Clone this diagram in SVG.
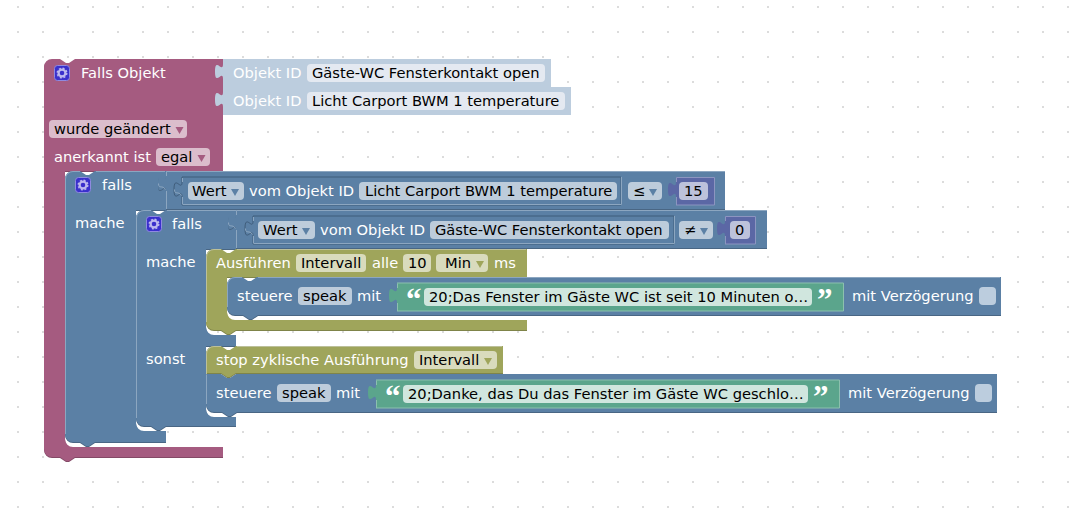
<svg xmlns="http://www.w3.org/2000/svg" width="1077" height="528" viewBox="0 0 1077 528">
<style>
text{font-family:"DejaVu Sans",sans-serif;font-size:14.67px;white-space:pre}
.w{fill:#fff}.k{fill:#000}
.pink{fill:#a55b80}.pinkd{fill:#844966}
.blue{fill:#5b80a5}.blued{fill:#496684}
.olive{fill:#9fa55b}.olived{fill:#7f8449}
.lb{fill:none;stroke:#8ca6c0}.lo{fill:none;stroke:#bcc09a}
.fb{fill:#bdccdb}.fp{fill:#dbbdcc}.fo{fill:#d9dbbd}.fs{fill:#e4e9f1}.fg{fill:#d0e6de}.fn{fill:#bdc2db}
.q{font-family:"Liberation Serif",serif;font-weight:bold;font-size:31px;fill:#fff}
</style>
<defs>
<pattern id="dots" x="0" y="0" width="25" height="25" patternUnits="userSpaceOnUse">
<path d="M18,6.500v2M17,7.500h2" stroke="#d0d0d0" stroke-width="1" fill="none" transform="translate(0,-0.500)"/>
</pattern>
<g id="gear">
<rect x="0.500" y="0.500" width="15" height="15" rx="3" fill="#3a30cc" stroke="#8f8ae0"/>
<circle cx="8" cy="8" r="3.400" fill="none" stroke="#bcb8ee" stroke-width="2.200"/>
<circle cx="8" cy="8" r="4.800" fill="none" stroke="#bcb8ee" stroke-width="1.400" stroke-dasharray="2 1.770"/>
</g>
</defs>
<rect width="1077" height="528" fill="#fff"/>
<rect width="1077" height="528" fill="url(#dots)"/>

<g id="falls-objekt">
<path class="pinkd" transform="translate(0,1)" d="M44,67a8,8 0 0 1 8-8h8l6,4h3l6-4H223V171H65V439a8,8 0 0 0 8,8H223V457H75l-6,4h-3l-6-4H52a8,8 0 0 1-8-8Z"/>
<path class="pink" d="M44,67a8,8 0 0 1 8-8h8l6,4h3l6-4H223V171H65V439a8,8 0 0 0 8,8H223V457H75l-6,4h-3l-6-4H52a8,8 0 0 1-8-8Z"/>
<use href="#gear" x="54" y="65"/>
<text class="w" x="81" y="78">Falls Objekt</text>
<rect class="fp" x="49" y="120" width="138" height="18" rx="4"/>
<text class="k" x="54" y="134">wurde geändert</text>
<path class="pink" d="M175.500,127h8l-4,7Z"/>
<text class="w" x="54" y="162">anerkannt ist</text>
<rect class="fp" x="156" y="148" width="54" height="18" rx="4"/>
<text class="k" x="161" y="162">egal</text>
<path class="pink" d="M197.500,155h8l-4,7Z"/>
</g>

<g id="objekt-id-1">
<path d="M223,59H551V87H223V79c0-10-8,8-8-7.500s8,2.500 8-7.500Z" fill="#bccdde"/>
<text class="w" x="233" y="78">Objekt ID</text>
<rect class="fs" x="307" y="64" width="238" height="18" rx="4"/>
<text class="k" x="312" y="78">Gäste-WC Fensterkontakt open</text>
</g>
<g id="objekt-id-2">
<path d="M223,87H571V115H223V107c0-10-8,8-8-7.500s8,2.500 8-7.500Z" fill="#bccdde"/>
<text class="w" x="233" y="106">Objekt ID</text>
<rect class="fs" x="307" y="92" width="258" height="18" rx="4"/>
<text class="k" x="312" y="106">Licht Carport BWM 1 temperature</text>
</g>

<g id="falls-aussen">
<path class="blued" transform="translate(0,1)" d="M65,179a8,8 0 0 1 8-8h7l6,4h3l6-4H166V210H136V423a8,8 0 0 0 8,8H166V442H95l-6,4h-3l-6-4H73a8,8 0 0 1-8-8Z"/>
<path class="blue" d="M65,179a8,8 0 0 1 8-8h7l6,4h3l6-4H166V210H136V423a8,8 0 0 0 8,8H166V442H95l-6,4h-3l-6-4H73a8,8 0 0 1-8-8Z"/>
<path class="lb" d="M65.500,434V179a7.500,7.500 0 0 1 7.500-7.500H80M96,171.500H165"/>
<use href="#gear" x="75" y="177"/>
<text class="w" x="102" y="190">falls</text>
<text class="w" x="75" y="228">mache</text>
</g>

<g id="vergleich-1">
<path class="blued" transform="translate(0,1)" d="M166,171H725V209H166V191c0-10-8,8-8-7.500s8,2.500 8-7.500Z"/>
<path class="blue" d="M166,171H725V209H166V191c0-10-8,8-8-7.500s8,2.500 8-7.500Z"/>
<path class="lb" d="M166.500,209V191M166.500,176V171.500H725M158.500,183.500c0,6 4,1 7,6"/>
<path d="M182,177H621V205H182V197c0-10-8,8-8-7.500s8,2.500 8-7.500Z" class="blue" stroke="#3f5c7a" stroke-width="1"/>
<path class="lb" d="M182.500,204.500H621.500V177M182.500,204V197M182.500,182V178M174.500,189.500c0,6 4,1 7,6"/>
<rect class="fb" x="188" y="182" width="56" height="18" rx="4"/>
<text class="k" x="192" y="196">Wert</text>
<path class="blue" d="M231,189h8l-4,7Z"/>
<text class="w" x="249" y="196">vom Objekt ID</text>
<rect class="fb" x="359" y="182" width="258" height="18" rx="4"/>
<text class="k" x="365" y="196">Licht Carport BWM 1 temperature</text>
<rect class="fb" x="628" y="182" width="34" height="18" rx="4"/>
<text class="k" x="633" y="196">≤</text>
<path class="blue" d="M649,189h8l-4,7Z"/>
<path d="M676,177H715V205H676V197c0-10-8,8-8-7.500s8,2.500 8-7.500Z" fill="#5b67a5"/>
<path d="M676.500,205V197M676.500,182V177.500H714.500V205H676" fill="none" stroke="#8c95c0"/>
<rect class="fn" x="679" y="182" width="29" height="18" rx="4"/>
<text class="k" x="684" y="196">15</text>
</g>

<g id="falls-innen">
<path class="blued" transform="translate(0,1)" d="M136,218a8,8 0 0 1 8-8h7l6,4h3l6-4H236V249H206V327a8,8 0 0 0 8,8H236V346H206V409a8,8 0 0 0 8,8H236V426H166l-6,4h-3l-6-4H144a8,8 0 0 1-8-8Z"/>
<path class="blue" d="M136,218a8,8 0 0 1 8-8h7l6,4h3l6-4H236V249H206V327a8,8 0 0 0 8,8H236V346H206V409a8,8 0 0 0 8,8H236V426H166l-6,4h-3l-6-4H144a8,8 0 0 1-8-8Z"/>
<path class="lb" d="M136.500,418V218a7.500,7.500 0 0 1 7.500-7.500H151M167,210.500H236"/>
<use href="#gear" x="146" y="216"/>
<text class="w" x="172" y="229">falls</text>
<text class="w" x="146" y="267">mache</text>
<text class="w" x="146" y="364">sonst</text>
</g>

<g id="vergleich-2">
<path class="blued" transform="translate(0,1)" d="M236,210H767V248H236V230c0-10-8,8-8-7.500s8,2.500 8-7.500Z"/>
<path class="blue" d="M236,210H767V248H236V230c0-10-8,8-8-7.500s8,2.500 8-7.500Z"/>
<path class="lb" d="M236.500,248V230M236.500,215V210.500H767M228.500,222.500c0,6 4,1 7,6"/>
<path d="M253,216H674V244H253V236c0-10-8,8-8-7.500s8,2.500 8-7.500Z" class="blue" stroke="#3f5c7a" stroke-width="1"/>
<path class="lb" d="M253.500,243.500H674.500V216M253.500,243V236M253.500,221V217M245.500,228.500c0,6 4,1 7,6"/>
<rect class="fb" x="258" y="221" width="57" height="18" rx="4"/>
<text class="k" x="263" y="235">Wert</text>
<path class="blue" d="M302,228h8l-4,7Z"/>
<text class="w" x="320" y="235">vom Objekt ID</text>
<rect class="fb" x="430" y="221" width="239" height="18" rx="4"/>
<text class="k" x="435" y="235">Gäste-WC Fensterkontakt open</text>
<rect class="fb" x="679" y="221" width="34" height="18" rx="4"/>
<text class="k" x="684" y="235">≠</text>
<path class="blue" d="M700,228h8l-4,7Z"/>
<path d="M725,216H756V244H725V236c0-10-8,8-8-7.500s8,2.500 8-7.500Z" fill="#5b67a5"/>
<path d="M725.500,244V236M725.500,221V216.500H755.500V244H725" fill="none" stroke="#8c95c0"/>
<rect class="fn" x="730" y="221" width="20" height="18" rx="4"/>
<text class="k" x="735" y="235">0</text>
</g>

<g id="ausfuehren">
<path class="olived" transform="translate(0,1)" d="M206,257a8,8 0 0 1 8-8h7l6,4h3l6-4H527V277H227V312a8,8 0 0 0 8,8H527V330H236l-6,4h-3l-6-4H214a8,8 0 0 1-8-8Z"/>
<path class="olive" d="M206,257a8,8 0 0 1 8-8h7l6,4h3l6-4H527V277H227V312a8,8 0 0 0 8,8H527V330H236l-6,4h-3l-6-4H214a8,8 0 0 1-8-8Z"/>
<path class="lo" d="M206.500,322V257a7.500,7.500 0 0 1 7.500-7.500H221M237,249.500H526"/>
<text class="w" x="216" y="268">Ausführen</text>
<rect class="fo" x="296" y="254" width="70" height="18" rx="4"/>
<text class="k" x="301" y="268">Intervall</text>
<text class="w" x="372" y="268">alle</text>
<rect class="fo" x="403" y="254" width="28" height="18" rx="4"/>
<text class="k" x="408" y="268">10</text>
<rect class="fo" x="436" y="254" width="52" height="18" rx="4"/>
<text class="k" x="445" y="268">Min</text>
<path class="olive" d="M476,261h8l-4,7Z"/>
<text class="w" x="494" y="268">ms</text>
</g>

<g id="steuere-1">
<path class="blued" transform="translate(0,1)" d="M227,285a8,8 0 0 1 8-8h7l6,4h3l6-4H1001V315H258l-6,4h-3l-6-4H235a8,8 0 0 1-8-8Z"/>
<path class="blue" d="M227,285a8,8 0 0 1 8-8h7l6,4h3l6-4H1001V315H258l-6,4h-3l-6-4H235a8,8 0 0 1-8-8Z"/>
<path class="lb" d="M227.500,307V285a7.500,7.500 0 0 1 7.500-7.500H242M258,277.500H1000"/>
<text class="w" x="237" y="301">steuere</text>
<rect class="fb" x="298" y="287" width="54" height="18" rx="4"/>
<text class="k" x="303" y="301">speak</text>
<text class="w" x="357" y="301">mit</text>
<path d="M397,283H843V311H397V303c0-10-8,8-8-7.500s8,2.500 8-7.500Z" fill="#5ba58c"/>
<path d="M397.500,311V303M397.500,288V283.500" fill="none" stroke="#8cc0ae"/>
<path d="M397,311H843.500V283H397" fill="none" stroke="#8cc0ae"/>
<text class="q" x="406" y="310">“</text>
<rect class="fg" x="424" y="288" width="388" height="18" rx="4"/>
<text class="k" x="429" y="302">20;Das Fenster im Gäste WC ist seit 10 Minuten o…</text>
<text class="q" x="817" y="310">”</text>
<text class="w" x="852" y="301">mit Verzögerung</text>
<rect x="979" y="287" width="17" height="18" rx="4" fill="#bccdde"/>
</g>

<g id="stop">
<path class="olived" transform="translate(0,1)" d="M206,354a8,8 0 0 1 8-8h7l6,4h3l6-4H503V373H236l-6,4h-3l-6-4H206Z"/>
<path class="olive" d="M206,354a8,8 0 0 1 8-8h7l6,4h3l6-4H503V373H236l-6,4h-3l-6-4H206Z"/>
<path class="lo" d="M206.500,374V354a7.500,7.500 0 0 1 7.500-7.500H221M237,346.500H502"/>
<text class="w" x="216" y="365">stop zyklische Ausführung</text>
<rect class="fo" x="414" y="351" width="83" height="18" rx="4"/>
<text class="k" x="419" y="365">Intervall</text>
<path class="olive" d="M484,358h8l-4,7Z"/>
</g>

<g id="steuere-2">
<path class="blued" transform="translate(0,1)" d="M206,374H221l6,4h3l6-4H997V412H237l-6,4h-3l-6-4H214a8,8 0 0 1-8-8Z"/>
<path class="blue" d="M206,374H221l6,4h3l6-4H997V412H237l-6,4h-3l-6-4H214a8,8 0 0 1-8-8Z"/>
<path class="lb" d="M206.500,404V374.500"/>
<text class="w" x="216" y="398">steuere</text>
<rect class="fb" x="277" y="384" width="54" height="18" rx="4"/>
<text class="k" x="282" y="398">speak</text>
<text class="w" x="336" y="398">mit</text>
<path d="M376,380H839V408H376V400c0-10-8,8-8-7.500s8,2.500 8-7.500Z" fill="#5ba58c"/>
<path d="M376.500,408V400M376.500,385V380.500" fill="none" stroke="#8cc0ae"/>
<path d="M376,408H839.500V380H376" fill="none" stroke="#8cc0ae"/>
<text class="q" x="385" y="407">“</text>
<rect class="fg" x="403" y="385" width="405" height="18" rx="4"/>
<text class="k" x="408" y="399">20;Danke, das Du das Fenster im Gäste WC geschlo…</text>
<text class="q" x="813" y="407">”</text>
<text class="w" x="848" y="398">mit Verzögerung</text>
<rect x="975" y="384" width="17" height="18" rx="4" fill="#bccdde"/>
</g>
<g id="connectors"></g>
</svg>
